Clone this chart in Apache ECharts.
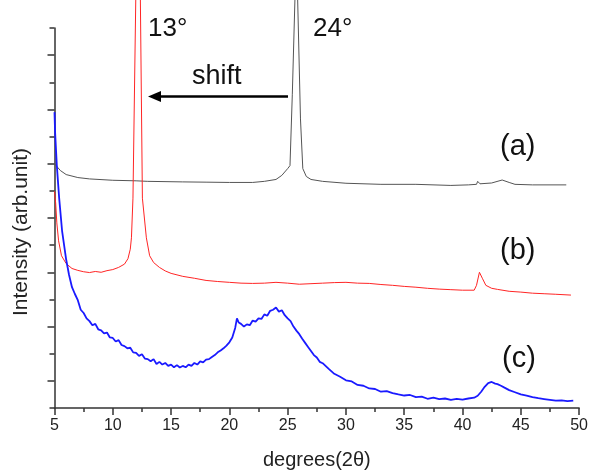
<!DOCTYPE html>
<html>
<head>
<meta charset="utf-8">
<script src="https://cdn.jsdelivr.net/npm/echarts@6/dist/echarts.min.js"></script>
<style>
html, body { margin: 0; padding: 0; background: #fff; }
#main { width: 591px; height: 475px; }
</style>
</head>
<body>
<div id="main"></div>
<script>
// XRD patterns, x in degrees(2θ), y in arbitrary units (0 at the x axis)
var curveA = [
    [5, 9.0], [5.2, 8.9], [5.5, 8.75], [6, 8.6], [7, 8.49], [8, 8.44], [10, 8.39], [12, 8.37],
    [13, 8.35], [16, 8.33], [18, 8.32], [20, 8.31], [22, 8.31], [23, 8.35], [24, 8.42],
    [24.5, 8.57], [25, 8.82], [25.2, 8.93], [25.4, 11.56], [25.75, 17], [26.1, 10.65],
    [26.3, 8.82], [26.6, 8.53], [27, 8.42], [28, 8.35], [30, 8.28], [33, 8.24], [36, 8.24],
    [39, 8.2], [40.5, 8.22], [41.2, 8.24], [41.3, 8.35], [41.5, 8.26], [42.5, 8.29],
    [43.4, 8.4], [44, 8.31], [44.5, 8.24], [46, 8.22], [48.9, 8.22]
];
var curveB = [
    [5, 7.98], [5.1, 7.55], [5.2, 6.82], [5.35, 6.16], [5.6, 5.61], [6, 5.32], [6.5, 5.14],
    [7, 5.07], [7.5, 5.02], [8, 4.99], [8.5, 5.03], [9, 5.0], [9.5, 5.06], [10, 5.1],
    [10.5, 5.18], [11, 5.3], [11.3, 5.5], [11.5, 5.85], [11.6, 6.27], [11.73, 7.73],
    [12.2, 22], [12.54, 7.73], [12.88, 6.27], [13.16, 5.61], [13.5, 5.36], [14, 5.18],
    [14.5, 5.05], [15, 4.96], [16, 4.85], [17, 4.78], [18, 4.7], [19, 4.66], [20, 4.63],
    [21, 4.6], [22, 4.59], [23, 4.6], [24, 4.63], [25, 4.6], [26, 4.56], [27, 4.58],
    [28, 4.6], [29, 4.62], [30, 4.63], [31, 4.6], [32, 4.59], [33, 4.55], [34, 4.52],
    [35, 4.48], [36, 4.45], [37, 4.41], [38, 4.38], [39, 4.36], [40, 4.34], [41, 4.34],
    [41.2, 4.52], [41.45, 5.0], [41.7, 4.78], [42, 4.52], [42.5, 4.41], [43, 4.37],
    [44, 4.3], [45, 4.27], [46, 4.23], [47, 4.21], [48, 4.19], [49.3, 4.16]
];
var curveC = [
    [5, 10.9], [5.05, 10.17], [5.2, 8.93], [5.4, 7.73], [5.65, 6.53], [6, 5.47], [6.25, 4.9],
    [6.5, 4.45], [6.75, 4.2], [7, 3.97], [7.25, 3.62], [7.5, 3.5], [7.75, 3.3], [8, 3.2],
    [8.25, 3.05], [8.5, 3.1], [8.75, 2.9], [9, 2.86], [9.25, 2.75], [9.5, 2.78], [9.75, 2.6],
    [10, 2.58], [10.25, 2.45], [10.5, 2.5], [10.75, 2.32], [11, 2.28], [11.25, 2.2],
    [11.5, 2.22], [11.75, 2.05], [12, 2.03], [12.25, 1.92], [12.5, 1.98], [12.75, 1.82],
    [13, 1.8], [13.25, 1.72], [13.5, 1.8], [13.75, 1.62], [14, 1.7], [14.25, 1.6],
    [14.5, 1.66], [14.75, 1.55], [15, 1.6], [15.25, 1.5], [15.5, 1.58], [15.75, 1.49],
    [16, 1.55], [16.25, 1.5], [16.5, 1.6], [16.75, 1.55], [17, 1.66], [17.25, 1.6],
    [17.5, 1.72], [17.75, 1.68], [18, 1.78], [18.25, 1.8], [18.5, 1.88], [18.75, 1.95],
    [19, 2.05], [19.25, 2.12], [19.5, 2.2], [19.75, 2.3], [20, 2.42], [20.25, 2.6],
    [20.5, 2.95], [20.65, 3.3], [20.8, 3.15], [21, 3.1], [21.25, 3.0], [21.5, 3.08],
    [21.75, 3.05], [22, 3.22], [22.25, 3.18], [22.5, 3.3], [22.75, 3.28], [23, 3.45],
    [23.25, 3.4], [23.5, 3.58], [23.75, 3.62], [24, 3.7], [24.25, 3.55], [24.5, 3.6],
    [24.75, 3.42], [25, 3.3], [25.25, 3.2], [25.5, 3.0], [25.75, 2.85], [26, 2.72],
    [26.25, 2.55], [26.5, 2.4], [26.75, 2.25], [27, 2.1], [27.25, 1.95], [27.5, 1.86],
    [27.75, 1.7], [28, 1.65], [28.5, 1.45], [29, 1.26], [29.5, 1.15], [30, 1.02],
    [30.5, 0.98], [31, 0.85], [31.5, 0.82], [32, 0.72], [32.5, 0.7], [33, 0.6], [33.5, 0.62],
    [34, 0.55], [34.5, 0.5], [35, 0.46], [35.5, 0.48], [36, 0.4], [36.5, 0.42], [37, 0.34],
    [37.5, 0.38], [38, 0.33], [38.5, 0.35], [39, 0.3], [39.5, 0.34], [40, 0.31], [40.5, 0.35],
    [41, 0.38], [41.3, 0.45], [41.6, 0.6], [41.9, 0.78], [42.2, 0.92], [42.5, 0.96],
    [42.8, 0.9], [43, 0.88], [43.3, 0.82], [43.6, 0.75], [44, 0.66], [44.5, 0.58], [45, 0.5],
    [45.5, 0.46], [46, 0.4], [46.5, 0.36], [47, 0.33], [47.5, 0.3], [48, 0.27], [48.5, 0.28],
    [49, 0.25], [49.5, 0.27]
];
var curveNames = ['(a)', '(b)', '(c)'];
var curveColors = ['#555555', '#ff2525', '#1a1aff'];
var peakLabels = ['13°', '24°'];

var myChart = echarts.init(document.getElementById('main'));

var font = 'Liberation Sans, Arial, sans-serif';

var option = {
    backgroundColor: '#fff',
    animation: false,
    grid: { left: 54.5, right: 10, top: 28, bottom: 63 },
    xAxis: {
        type: 'value',
        min: 5,
        max: 50,
        interval: 5,
        name: 'degrees(2θ)',
        nameLocation: 'middle',
        nameGap: 42,
        nameTextStyle: { fontFamily: font, fontSize: 20, color: '#222' },
        axisLine: { lineStyle: { color: '#333', width: 1.5 } },
        axisTick: { length: 7, lineStyle: { color: '#333', width: 1.5 } },
        minorTick: { show: true, splitNumber: 2, length: 4, lineStyle: { color: '#333', width: 1.5 } },
        axisLabel: { margin: 10, fontFamily: font, fontSize: 16, color: '#222' },
        splitLine: { show: false }
    },
    yAxis: {
        type: 'value',
        min: 0,
        max: 14,
        interval: 2,
        name: 'Intensity (arb.unit)',
        nameLocation: 'middle',
        nameGap: 23,
        nameTextStyle: { fontFamily: font, fontSize: 21, color: '#222', padding: [0, 28, 0, 0] },
        axisLine: { show: true, lineStyle: { color: '#333', width: 1.5 } },
        axisTick: { show: true, length: 5, lineStyle: { color: '#333', width: 1.5 } },
        minorTick: { show: true, splitNumber: 2, length: 7, lineStyle: { color: '#333', width: 1.5 } },
        axisLabel: { show: false },
        splitLine: { show: false }
    },
    series: [
        { name: curveNames[0], type: 'line', data: curveA, showSymbol: false, clip: false,
          lineStyle: { color: curveColors[0], width: 1 } },
        { name: curveNames[1], type: 'line', data: curveB, showSymbol: false, clip: false,
          lineStyle: { color: curveColors[1], width: 1 } },
        { name: curveNames[2], type: 'line', data: curveC, showSymbol: false, clip: false,
          lineStyle: { color: curveColors[2], width: 1.8 } }
    ],
    graphic: [
        { type: 'text', left: 148, top: 16, style: { text: peakLabels[0], font: '26px ' + font, fill: '#111' } },
        { type: 'text', left: 313, top: 16, style: { text: peakLabels[1], font: '26px ' + font, fill: '#111' } },
        { type: 'text', left: 192, top: 63, style: { text: 'shift', font: '27px ' + font, fill: '#111' } },
        { type: 'line', shape: { x1: 158, y1: 96.5, x2: 288, y2: 96.5 }, style: { stroke: '#000', lineWidth: 2.5 } },
        { type: 'polygon', shape: { points: [[148, 96.5], [161, 91], [161, 102]] }, style: { fill: '#000' } },
        { type: 'text', left: 500, top: 132, style: { text: curveNames[0], font: '29px ' + font, fill: '#111' } },
        { type: 'text', left: 500, top: 236, style: { text: curveNames[1], font: '29px ' + font, fill: '#111' } },
        { type: 'text', left: 502, top: 344, style: { text: curveNames[2], font: '29px ' + font, fill: '#111' } }
    ]
};

myChart.setOption(option);
</script>
</body>
</html>
